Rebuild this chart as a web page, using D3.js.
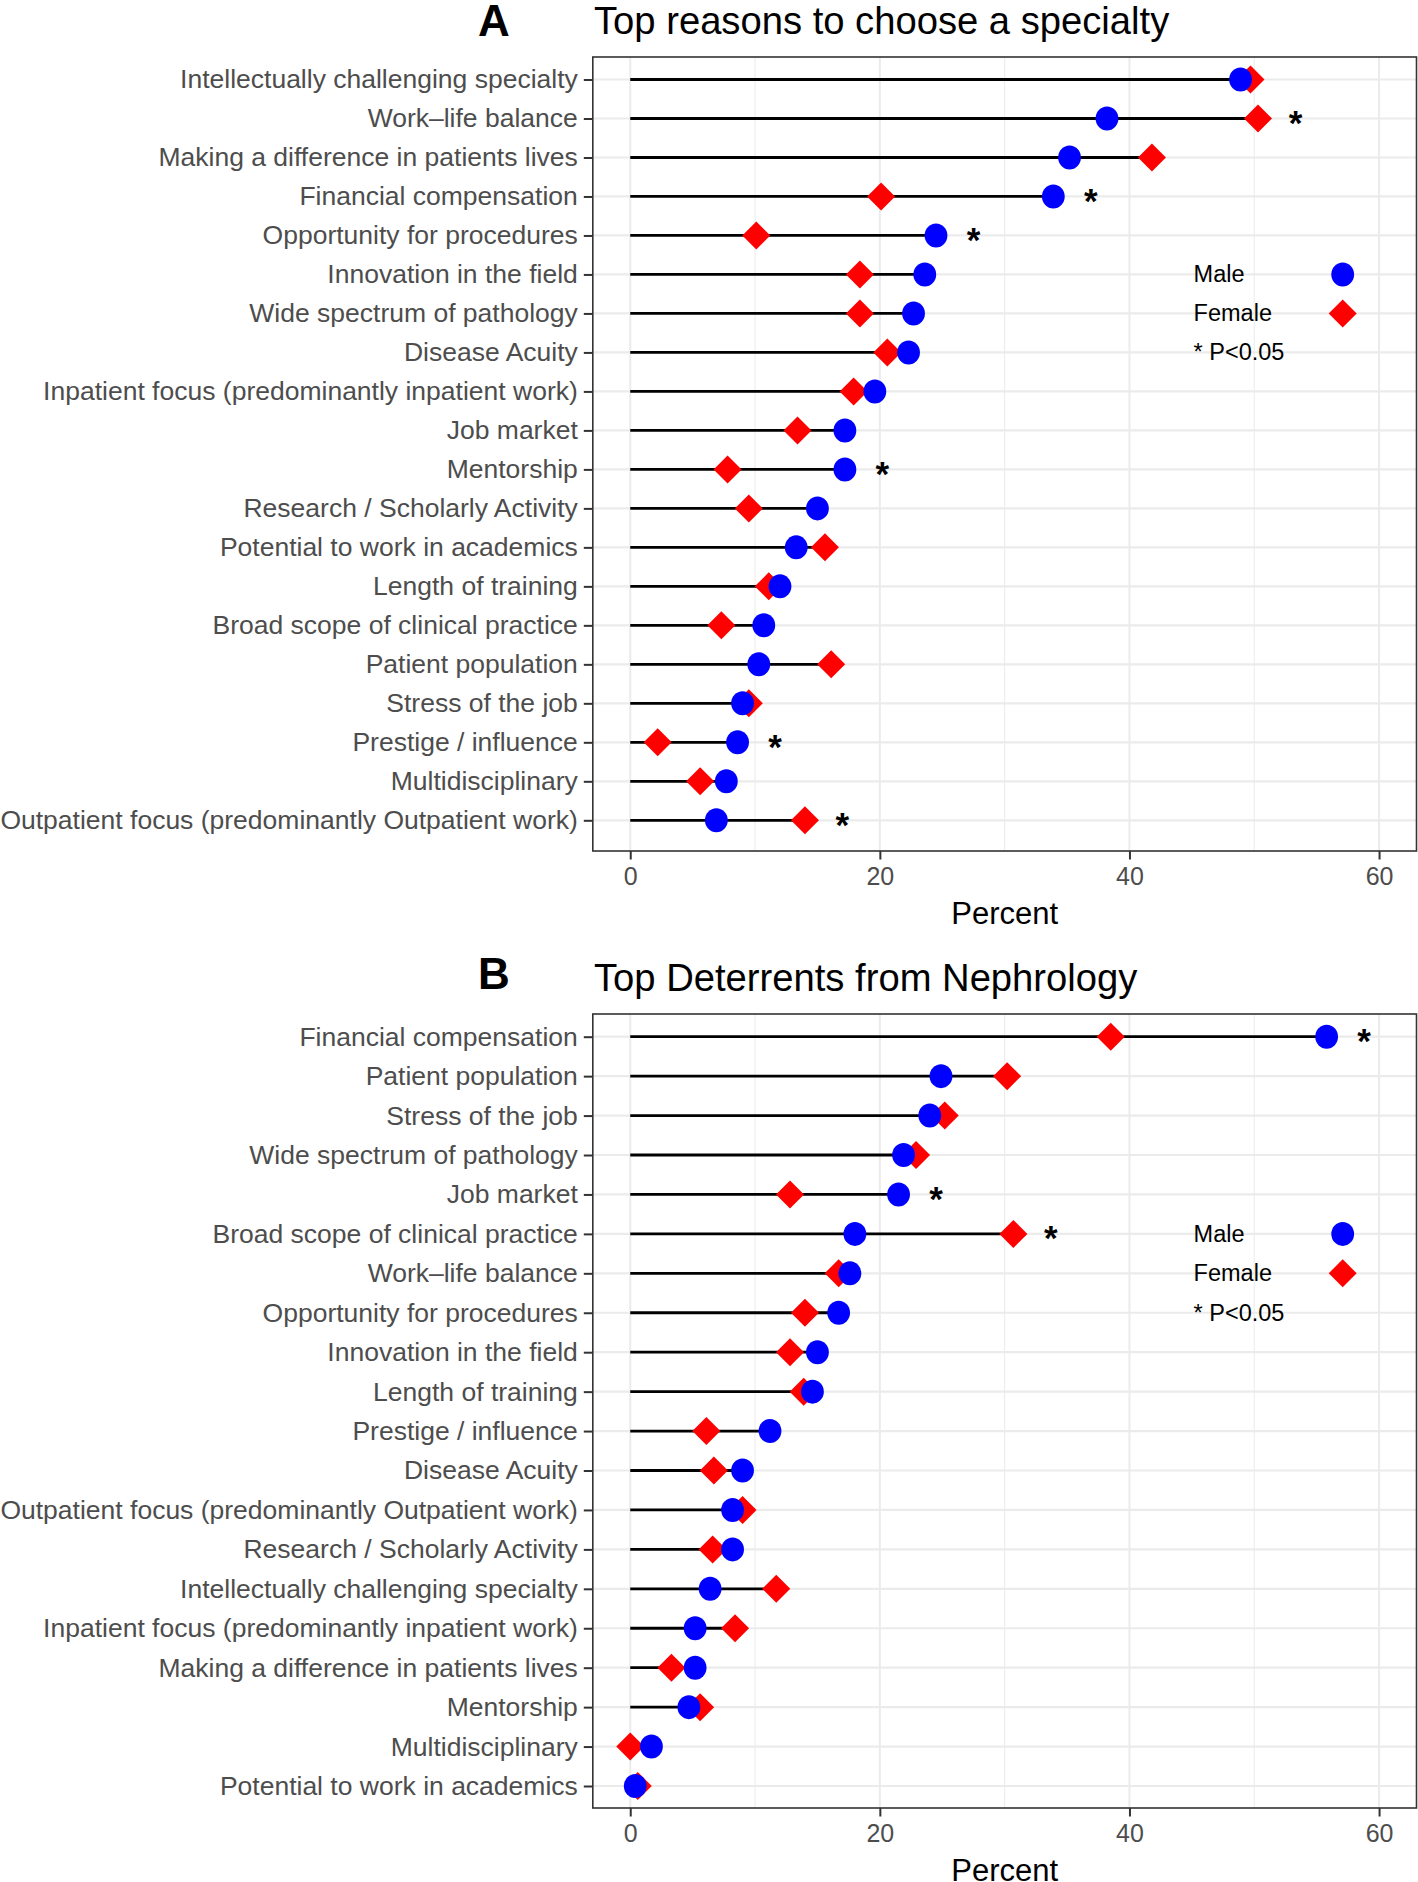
<!DOCTYPE html>
<html>
<head>
<meta charset="utf-8">
<script src="https://cdn.jsdelivr.net/npm/d3@7"></script>
<style>
body{margin:0;background:#fff;}
svg{display:block;font-family:"Liberation Sans",Arial,Helvetica,sans-serif;}
</style>
</head>
<body>
<div id="chart"></div>
<script>
// panel A data
var catsA=["Intellectually challenging specialty","Work\u2013life balance","Making a difference in patients lives","Financial compensation","Opportunity for procedures","Innovation in the field","Wide spectrum of pathology","Disease Acuity","Inpatient focus (predominantly inpatient work)","Job market","Mentorship","Research / Scholarly Activity","Potential to work in academics","Length of training","Broad scope of clinical practice","Patient population","Stress of the job","Prestige / influence","Multidisciplinary","Outpatient focus (predominantly Outpatient work)"];
var maleA=[48.9,38.2,35.2,33.9,24.5,23.6,22.7,22.3,19.6,17.2,17.2,15.0,13.3,12.0,10.7,10.3,9.0,8.6,7.7,6.9];
var femaleA=[49.7,50.3,41.8,20.1,10.1,18.4,18.4,20.6,17.9,13.4,7.8,9.5,15.6,11.1,7.3,16.1,9.5,2.2,5.6,14.0];
var sigA=["Work\u2013life balance","Financial compensation","Opportunity for procedures","Mentorship","Prestige / influence","Outpatient focus (predominantly Outpatient work)"];

// panel B data
var catsB=["Financial compensation","Patient population","Stress of the job","Wide spectrum of pathology","Job market","Broad scope of clinical practice","Work\u2013life balance","Opportunity for procedures","Innovation in the field","Length of training","Prestige / influence","Disease Acuity","Outpatient focus (predominantly Outpatient work)","Research / Scholarly Activity","Intellectually challenging specialty","Inpatient focus (predominantly inpatient work)","Making a difference in patients lives","Mentorship","Multidisciplinary","Potential to work in academics"];
var maleB=[55.8,24.9,24.0,21.9,21.5,18.0,17.6,16.7,15.0,14.6,11.2,9.0,8.2,8.2,6.4,5.2,5.2,4.7,1.7,0.4];
var femaleB=[38.5,30.2,25.2,22.9,12.8,30.7,16.7,14.0,12.8,13.9,6.1,6.7,9.0,6.6,11.7,8.4,3.3,5.6,0.0,0.6];
var sigB=["Financial compensation","Job market","Broad scope of clinical practice"];

var xTicks=[0,20,40,60],
    xMinor=[10,30,50];
var legendLabels=["Male","Female","* P<0.05"];

var width=1418,height=1882;
var svg=d3.select("#chart").append("svg")
    .attr("width",width)
    .attr("height",height);

svg.append("rect").attr("width",width).attr("height",height).attr("fill","#fff");

var left=592.8,right=1416.5;
var x=d3.scaleLinear().domain([-3,63]).range([left,right]);

function diamond(g,cx,cy,r){
    g.append("path")
        .attr("d","M"+cx+","+(cy-r)+"L"+(cx+r)+","+cy+"L"+cx+","+(cy+r)+"L"+(cx-r)+","+cy+"Z")
        .attr("fill","#ff0000");
}

// p = {letter,title,letterY,titleY,top,bottom,row0,row1}
function panel(p,cats,male,female,sig){
    var g=svg.append("g");
    var top=p.top,bottom=p.bottom;
    var y=d3.scalePoint().domain(cats).range([p.row0,p.row1]).padding(0);

    // grid
    g.selectAll(".minor").data(xMinor).enter().append("line")
        .attr("x1",d=>x(d)).attr("x2",d=>x(d))
        .attr("y1",top).attr("y2",bottom)
        .attr("stroke","#ebebeb").attr("stroke-width",1);
    g.selectAll(".major").data(xTicks).enter().append("line")
        .attr("x1",d=>x(d)).attr("x2",d=>x(d))
        .attr("y1",top).attr("y2",bottom)
        .attr("stroke","#ebebeb").attr("stroke-width",2);
    g.selectAll(".hgrid").data(cats).enter().append("line")
        .attr("x1",left).attr("x2",right)
        .attr("y1",d=>y(d)).attr("y2",d=>y(d))
        .attr("stroke","#ebebeb").attr("stroke-width",2.2);

    // lollipop segments
    g.selectAll(".seg").data(cats).enter().append("line")
        .attr("x1",x(0))
        .attr("x2",(d,i)=>x(Math.max(male[i],female[i])))
        .attr("y1",d=>y(d)).attr("y2",d=>y(d))
        .attr("stroke","#000").attr("stroke-width",2.8);

    // female diamonds then male circles
    cats.forEach(function(c,i){
        diamond(g,x(female[i]),y(c),14);
    });
    g.selectAll(".male").data(cats).enter().append("ellipse")
        .attr("cx",(d,i)=>x(male[i]))
        .attr("cy",d=>y(d))
        .attr("rx",11.4).attr("ry",12)
        .attr("fill","#0000ff");

    // significance stars
    g.selectAll(".star").data(cats).enter()
        .filter(d=>sig.indexOf(d)>=0)
        .append("text")
        .attr("x",d=>{var i=cats.indexOf(d);return x(Math.max(male[i],female[i])+3);})
        .attr("y",d=>y(d)+16.5)
        .attr("text-anchor","middle")
        .attr("font-size",35)
        .attr("font-weight","bold")
        .text("*");

    // legend (drawn inside panel next to rows 6-8)
    var lx=1193.6,sx=1342.7;
    var ly=[y(cats[5]),y(cats[6]),y(cats[7])];
    g.selectAll(".leg").data(legendLabels).enter().append("text")
        .attr("x",lx).attr("y",(d,i)=>ly[i])
        .attr("dominant-baseline","central")
        .attr("font-size",23.5)
        .attr("fill","#000")
        .text(d=>d);
    g.append("ellipse").attr("cx",sx).attr("cy",ly[0]).attr("rx",11.4).attr("ry",12).attr("fill","#0000ff");
    diamond(g,sx,ly[1],14);

    // panel border
    g.append("rect")
        .attr("x",left).attr("y",top)
        .attr("width",right-left).attr("height",bottom-top)
        .attr("fill","none").attr("stroke","#333").attr("stroke-width",1.6);

    // axes
    var yAxis=g.append("g").attr("transform","translate("+left+",0)")
        .call(d3.axisLeft(y).tickSize(9).tickPadding(6));
    yAxis.select(".domain").remove();
    yAxis.selectAll("line").attr("stroke","#333").attr("stroke-width",2);
    yAxis.selectAll("text").attr("font-size",26.5).attr("fill","#4d4d4d")
        .attr("font-family","Liberation Sans, Arial, sans-serif");

    var xAxis=g.append("g").attr("transform","translate(0,"+bottom+")")
        .call(d3.axisBottom(x).tickValues(xTicks).tickSize(8.5).tickPadding(8));
    xAxis.select(".domain").remove();
    xAxis.selectAll("line").attr("stroke","#333").attr("stroke-width",2);
    xAxis.selectAll("text").attr("font-size",25).attr("fill","#4d4d4d")
        .attr("font-family","Liberation Sans, Arial, sans-serif");

    g.append("text")
        .attr("x",(left+right)/2).attr("y",bottom+73)
        .attr("text-anchor","middle")
        .attr("font-size",31)
        .text("Percent");

    // titles
    g.append("text").attr("x",478).attr("y",p.letterY)
        .attr("font-size",44).attr("font-weight","bold").text(p.letter);
    g.append("text").attr("x",594).attr("y",p.titleY)
        .attr("font-size",38.2).text(p.title);
}

panel({letter:"A",title:"Top reasons to choose a specialty",letterY:36,titleY:33.5,
       top:57,bottom:851,row0:79.5,row1:820.3},catsA,maleA,femaleA,sigA);
panel({letter:"B",title:"Top Deterrents from Nephrology",letterY:988.5,titleY:991,
       top:1014,bottom:1808,row0:1036.7,row1:1786},catsB,maleB,femaleB,sigB);
</script>
</body>
</html>
